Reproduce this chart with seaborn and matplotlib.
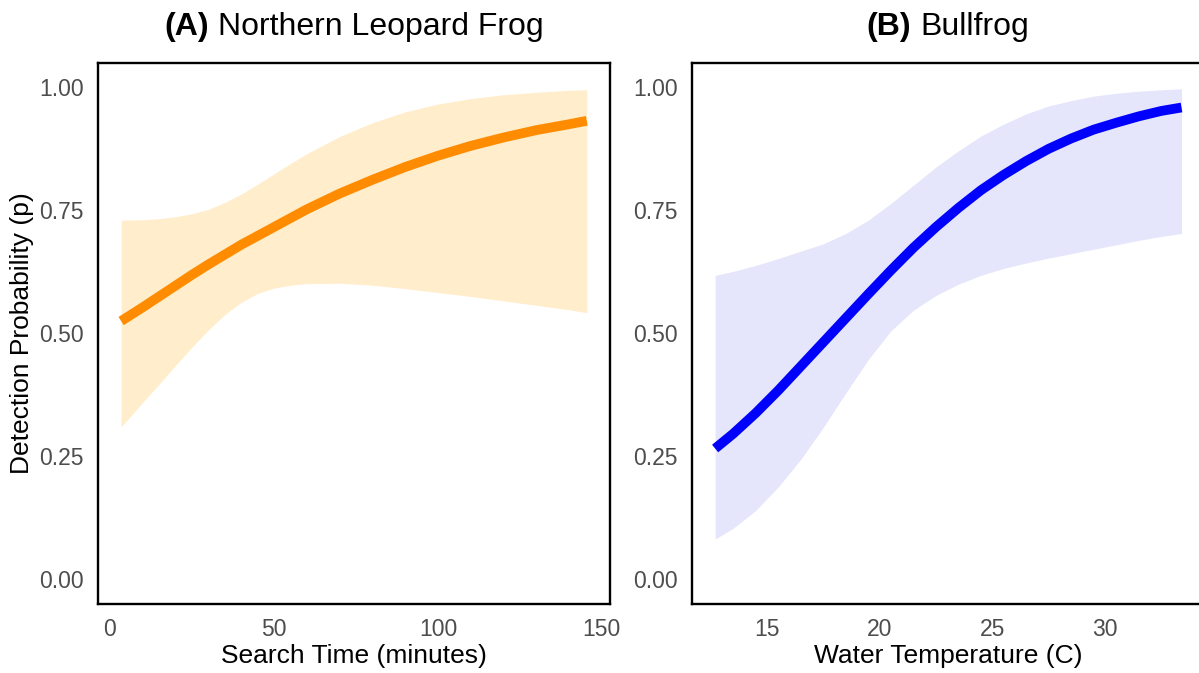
import matplotlib
matplotlib.use("Agg")
import matplotlib.pyplot as plt
from matplotlib.offsetbox import TextArea, HPacker, AnchoredOffsetbox
import seaborn as sns

# Panel A: northern leopard frog, detection vs search time
search_time = [3.4, 10, 15, 20, 25, 30, 35, 40, 45, 50, 55, 60, 70, 80, 90, 100, 110,
               120, 130, 140, 145.4]
p_leopard = [0.525, 0.553, 0.575, 0.597, 0.619, 0.640, 0.660, 0.680, 0.698, 0.716, 0.734,
             0.752, 0.784, 0.812, 0.838, 0.861, 0.881, 0.898, 0.913, 0.925, 0.932]
lo_leopard = [0.310, 0.360, 0.397, 0.435, 0.472, 0.507, 0.538, 0.563, 0.581, 0.592, 0.598,
              0.601, 0.602, 0.598, 0.591, 0.583, 0.575, 0.566, 0.557, 0.548, 0.542]
hi_leopard = [0.730, 0.731, 0.733, 0.737, 0.743, 0.752, 0.766, 0.783, 0.803, 0.824, 0.845,
              0.865, 0.900, 0.928, 0.950, 0.966, 0.977, 0.985, 0.990, 0.994, 0.995]

# Panel B: bullfrog, detection vs water temperature
water_temp = [12.7, 13.5, 14.5, 15.5, 16.5, 17.5, 18.5, 19.5, 20.5, 21.5, 22.5, 23.5,
              24.5, 25.5, 26.5, 27.5, 28.5, 29.5, 30.5, 31.5, 32.5, 33.4]
p_bull = [0.266, 0.296, 0.338, 0.384, 0.433, 0.482, 0.531, 0.580, 0.628, 0.674, 0.716,
          0.755, 0.791, 0.822, 0.850, 0.875, 0.896, 0.914, 0.928, 0.941, 0.952, 0.959]
lo_bull = [0.082, 0.104, 0.140, 0.188, 0.244, 0.309, 0.379, 0.447, 0.505, 0.547, 0.577,
           0.600, 0.618, 0.632, 0.643, 0.653, 0.662, 0.671, 0.680, 0.689, 0.697, 0.703]
hi_bull = [0.618, 0.626, 0.638, 0.652, 0.667, 0.682, 0.703, 0.730, 0.764, 0.801, 0.838,
           0.871, 0.901, 0.925, 0.946, 0.962, 0.973, 0.982, 0.988, 0.992, 0.995, 0.997]

y_ticks = [0.0, 0.25, 0.5, 0.75, 1.0]

sns.set_theme(style="white")
plt.rcParams["font.family"] = ["Liberation Sans", "DejaVu Sans"]

fig = plt.figure(figsize=(11.99, 6.73), dpi=100)
ax1 = fig.add_axes([0.0817, 0.1025, 0.4271, 0.8043])
ax2 = fig.add_axes([0.5771, 0.1025, 0.4271, 0.8043])

panels = [
    (ax1, search_time, p_leopard, lo_leopard, hi_leopard, "#FF8C00", "#FFEDCC",
     "(A)", "Northern Leopard Frog", "Search Time (minutes)", (-3.66, 152.5), [0, 50, 100, 150]),
    (ax2, water_temp, p_bull, lo_bull, hi_bull, "#0000FF", "#E5E5FC",
     "(B)", "Bullfrog", "Water Temperature (C)", (11.67, 34.4), [15, 20, 25, 30]),
]

for ax, x, p, lo, hi, col, band, tag, name, xlab, xlim, xt in panels:
    ax.fill_between(x, lo, hi, color=band, linewidth=0)
    sns.lineplot(x=x, y=p, ax=ax, color=col, linewidth=7, solid_capstyle="butt",
                 solid_joinstyle="round")
    ax.set_xlim(*xlim)
    ax.set_ylim(-0.05, 1.05)
    ax.set_xticks(xt)
    ax.set_yticks(y_ticks)
    ax.set_yticklabels(["0.00", "0.25", "0.50", "0.75", "1.00"])
    ax.tick_params(length=0, pad=10, labelsize=16.5, labelcolor="#4D4D4D")
    ax.set_xlabel(xlab, fontsize=19, color="black", labelpad=2)
    for s in ax.spines.values():
        s.set_color("black")
        s.set_linewidth(1.7)
    ax.grid(False)

    title = HPacker(children=[
        TextArea(tag, textprops=dict(fontweight="bold", fontsize=23, color="black")),
        TextArea(name, textprops=dict(fontsize=23, color="black")),
    ], align="baseline", pad=0, sep=7)
    ax.add_artist(AnchoredOffsetbox(loc="lower center", child=title, pad=0, borderpad=0,
                                    frameon=False, bbox_to_anchor=(0.5, 1.038),
                                    bbox_transform=ax.transAxes))

ax1.set_ylabel("Detection Probability (p)", fontsize=19, color="black", labelpad=4)
ax2.set_ylabel("")

fig.savefig("out.png", dpi=100, facecolor="white")
